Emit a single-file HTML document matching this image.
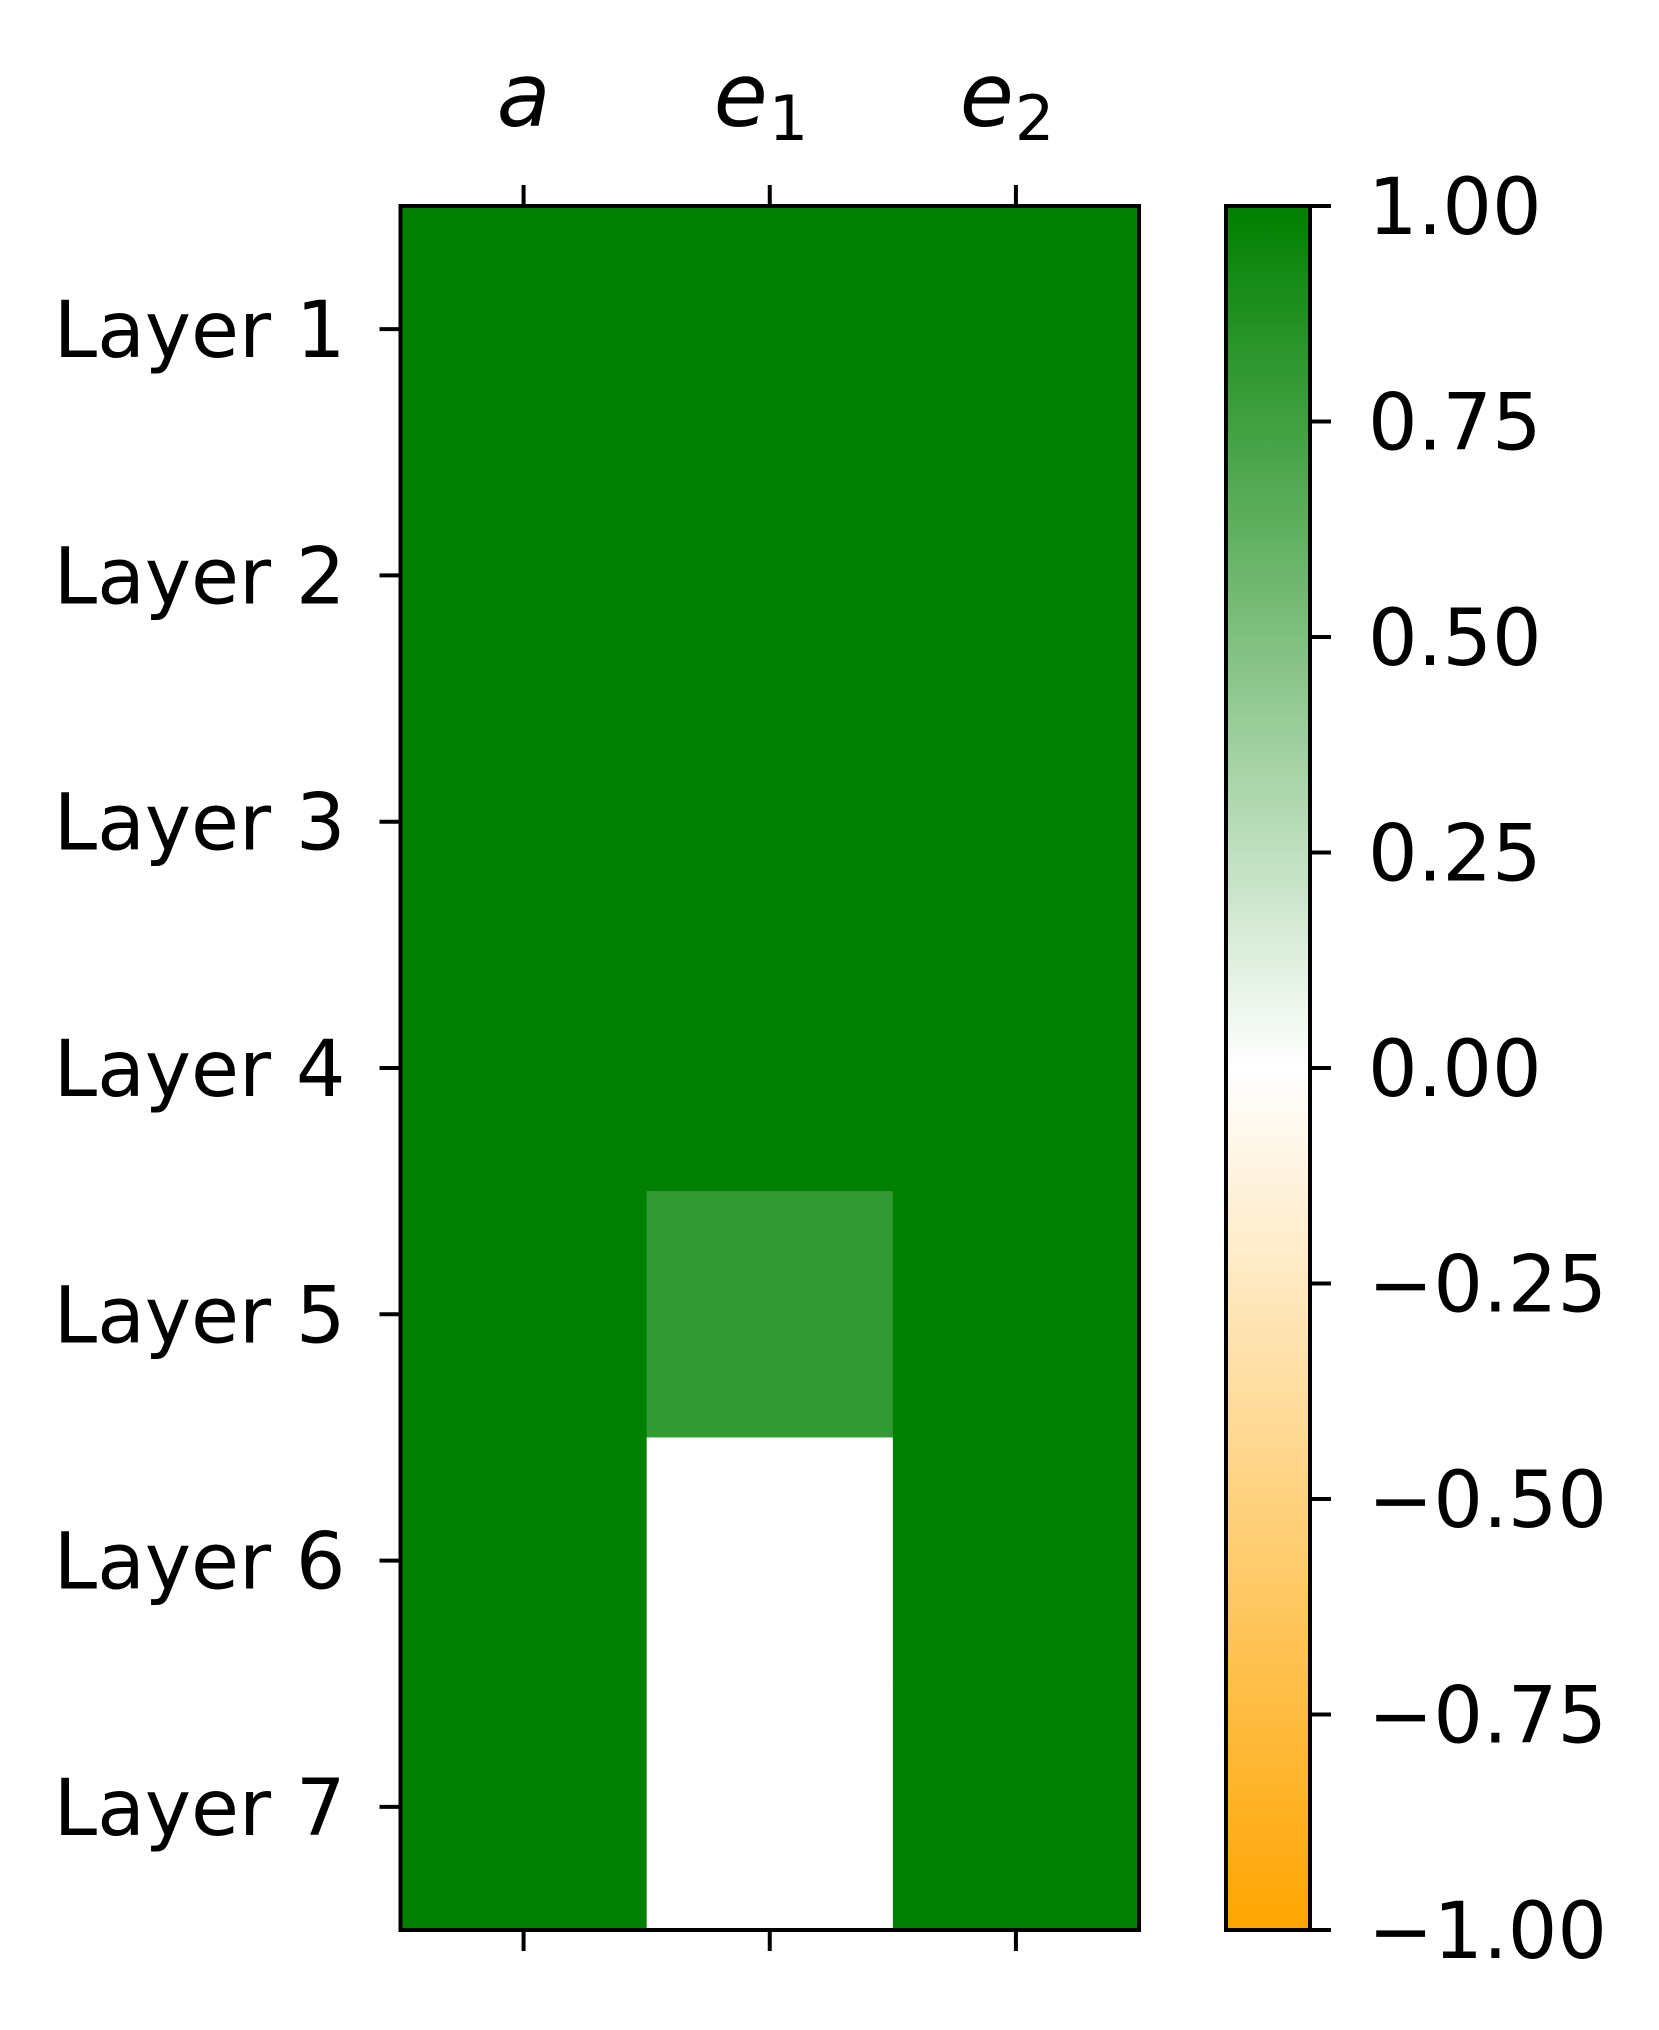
<!DOCTYPE html>
<html><head><meta charset="utf-8"><style>
html,body{margin:0;padding:0;background:#fff;}
svg{display:block;font-family:"DejaVu Sans","Liberation Sans",sans-serif;}
</style></head><body>
<svg id="chart" width="1659" height="2030" viewBox="0 0 1659 2030" xmlns="http://www.w3.org/2000/svg">
<defs>
<linearGradient id="cbgrad" x1="0" y1="1" x2="0" y2="0">
<stop offset="0" stop-color="#ffa500"/>
<stop offset="0.5" stop-color="#ffffff"/>
<stop offset="1" stop-color="#008000"/>
</linearGradient>
</defs>
<g id="cells"></g>
<g id="axes"></g>
</svg>
<script>
const rowLabels = ["Layer 1","Layer 2","Layer 3","Layer 4","Layer 5","Layer 6","Layer 7"];
const colLabels = [["a",""],["e","1"],["e","2"]];
const values = [
 [1,1,1],
 [1,1,1],
 [1,1,1],
 [1,1,1],
 [1,0.8,1],
 [1,0,1],
 [1,0,1]
];
const cbTicks = [1.00,0.75,0.50,0.25,0.00,-0.25,-0.50,-0.75,-1.00];

const NS="http://www.w3.org/2000/svg";
const L=400.5,R=1139,T=206,B=1930;
const CBL=1226,CBR=1310;
const cw=(R-L)/colLabels.length, rh=(B-T)/rowLabels.length;
const xc=i=>L+cw*(i+0.5), yc=j=>T+rh*(j+0.5);
const cbY=v=>B-(v+1)/2*(B-T);
function color(v){
  let r,g,b;
  if(v>=0){r=255*(1-v);g=255*(1-v)+128*v;b=255*(1-v);}
  else{const t=-v;r=255;g=255*(1-t)+165*t;b=255*(1-t);}
  return `rgb(${Math.round(r)},${Math.round(g)},${Math.round(b)})`;
}
function mk(tag,attrs,parent){const e=document.createElementNS(NS,tag);for(const k in attrs)e.setAttribute(k,attrs[k]);parent.appendChild(e);return e;}
const cells=document.getElementById('cells'), axes=document.getElementById('axes');
values.forEach((row,j)=>row.forEach((v,i)=>{
  const r=mk('rect',{x:L+cw*i,y:T+rh*j,width:cw+0.5,height:rh+0.5,fill:color(v)},cells);
  
  
}));
const frame=mk('rect',{x:L,y:T,width:R-L,height:B-T,fill:'none',stroke:'#000','stroke-width':4},axes);


rowLabels.forEach((lab,j)=>{
  mk('line',{x1:L-21,x2:L,y1:yc(j),y2:yc(j),stroke:'#000','stroke-width':4},axes);
  const t=mk('text',{x:L-55,y:yc(j)+28,'text-anchor':'end','font-size':78},axes);
  t.textContent=lab;
  
  
});
colLabels.forEach((lab,i)=>{
  mk('line',{x1:xc(i),x2:xc(i),y1:T-21,y2:T,stroke:'#000','stroke-width':4},axes);
  mk('line',{x1:xc(i),x2:xc(i),y1:B,y2:B+21,stroke:'#000','stroke-width':4},axes);
  const t=mk('text',{x:xc(i)+(lab[1]?-2:0),y:126,'text-anchor':lab[1]?'end':'middle','font-size':88,'font-style':'italic'},axes);
  t.textContent=lab[0];
  
  
  if(lab[1]){
    const s=mk('text',{x:xc(i)-1,y:140,'font-size':62},axes);
    s.textContent=lab[1];
    
    
  }
});
const cb=mk('rect',{x:CBL,y:T,width:CBR-CBL,height:B-T,fill:'url(#cbgrad)',stroke:'#000','stroke-width':4},axes);


cbTicks.forEach(v=>{
  const y=cbY(v);
  mk('line',{x1:CBR,x2:CBR+21,y1:y,y2:y,stroke:'#000','stroke-width':4},axes);
  const t=mk('text',{x:1368,y:y+28,'font-size':78},axes);
  t.textContent=(v<0?'\u2212':'')+Math.abs(v).toFixed(2);
  
  
});
</script>
</body></html>
